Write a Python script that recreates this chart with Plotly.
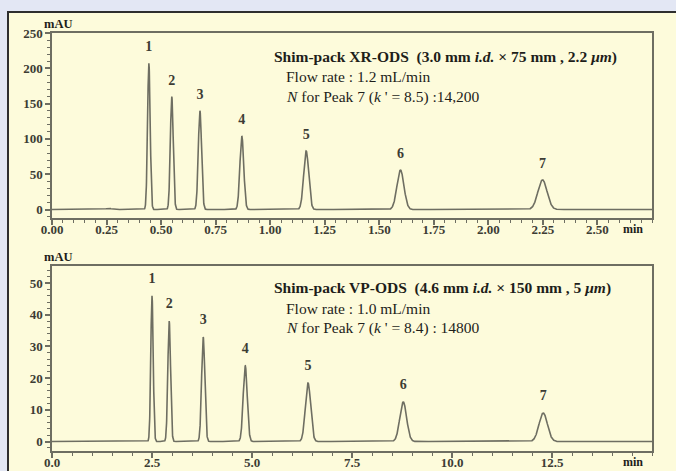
import numpy as np
import plotly.graph_objects as go

W, H = 676, 471

# ---- data ----
peak_labels = ["1", "2", "3", "4", "5", "6", "7"]

# top: Shim-pack XR-ODS
xr_times = [0.444, 0.549, 0.678, 0.870, 1.165, 1.597, 2.248]
xr_heights = [207, 160, 140, 104, 83, 56, 42]
xr_sigmas = [0.0060, 0.0066, 0.0075, 0.0088, 0.0115, 0.0160, 0.0210]
xr_bump = [0.26, 1.5, 0.015]   # small injection disturbance (time, height, sigma)

# bottom: Shim-pack VP-ODS
vp_times = [2.50, 2.93, 3.78, 4.83, 6.40, 8.78, 12.28]
vp_heights = [46, 38, 33, 24, 18.5, 12.5, 9]
vp_sigmas = [0.030, 0.034, 0.040, 0.050, 0.066, 0.085, 0.105]

xr_ticks = [0.00, 0.25, 0.50, 0.75, 1.00, 1.25, 1.50, 1.75, 2.00, 2.25, 2.50]
xr_ticktext = ["0.00", "0.25", "0.50", "0.75", "1.00", "1.25", "1.50", "1.75", "2.00", "2.25", "2.50"]
vp_ticks = [0.0, 2.5, 5.0, 7.5, 10.0, 12.5]
vp_ticktext = ["0.0", "2.5", "5.0", "7.5", "10.0", "12.5"]
xr_yticks = [0, 50, 100, 150, 200, 250]
vp_yticks = [0, 10, 20, 30, 40, 50]


def chromatogram(t, times, heights, sigmas):
    y = np.zeros_like(t)
    for tr, h, s in zip(times, heights, sigmas):
        y += h * np.exp(-0.5 * ((t - tr) / s) ** 2)
    return y


t_top = np.arange(0, 2.7501, 0.0005)
y_top = chromatogram(t_top, xr_times, xr_heights, xr_sigmas)
y_top += chromatogram(t_top, [xr_bump[0]], [xr_bump[1]], [xr_bump[2]])
t_bot = np.arange(0, 15.0001, 0.002)
y_bot = chromatogram(t_bot, vp_times, vp_heights, vp_sigmas)

LINE = "#6e6e62"
TXT = "#3c3c34"
SERIF = "Liberation Serif"

fig = go.Figure()
fig.add_trace(go.Scatter(x=t_top, y=y_top, mode="lines", line=dict(color=LINE, width=1.6),
                         xaxis="x", yaxis="y", hoverinfo="skip", showlegend=False))
fig.add_trace(go.Scatter(x=t_bot, y=y_bot, mode="lines", line=dict(color=LINE, width=1.6),
                         xaxis="x2", yaxis="y2", hoverinfo="skip", showlegend=False))

# peak number labels
fig.add_trace(go.Scatter(x=xr_times, y=[h + 22 for h in xr_heights], mode="text", text=peak_labels,
                         textfont=dict(family=SERIF, size=14, color=TXT, weight="bold"),
                         xaxis="x", yaxis="y", hoverinfo="skip", showlegend=False))
fig.add_trace(go.Scatter(x=vp_times, y=[h + 5.2 for h in vp_heights], mode="text", text=peak_labels,
                         textfont=dict(family=SERIF, size=14, color=TXT, weight="bold"),
                         xaxis="x2", yaxis="y2", hoverinfo="skip", showlegend=False))

xdom = [52 / W, 652 / W]
top_dom = [1 - 218 / H, 1 - 33 / H]
bot_dom = [1 - 451 / H, 1 - 266 / H]

tickfont = dict(family=SERIF, size=13, color=TXT, weight="bold")
common = dict(showline=True, linecolor=LINE, linewidth=1.5, mirror=True, ticks="outside",
              ticklen=5, tickcolor=LINE, tickwidth=1.5, showgrid=False, zeroline=False,
              tickfont=tickfont, fixedrange=True, automargin=False)

fig.update_layout(
    template="none",
    width=W, height=H, margin=dict(l=0, r=0, t=0, b=0, pad=0),
    paper_bgcolor="#e3e7f4", plot_bgcolor="rgba(0,0,0,0)",
    showlegend=False,
    xaxis=dict(domain=xdom, anchor="y", range=[0, 2.75], tickvals=xr_ticks, ticktext=xr_ticktext,
               ticklabelstandoff=-6,
               minor=dict(dtick=0.05, ticks="outside", ticklen=3, tickcolor=LINE, tickwidth=1.2),
               **common),
    yaxis=dict(domain=top_dom, anchor="x", range=[-12, 250], tickvals=xr_yticks,
               minor=dict(dtick=10, ticks="outside", ticklen=3, tickcolor=LINE, tickwidth=1.2),
               **common),
    xaxis2=dict(domain=xdom, anchor="y2", range=[0, 15], tickvals=vp_ticks, ticktext=vp_ticktext,
                ticklabelstandoff=-6,
                minor=dict(dtick=0.5, ticks="outside", ticklen=3, tickcolor=LINE, tickwidth=1.2),
                **common),
    yaxis2=dict(domain=bot_dom, anchor="x2", range=[-3, 55.4], tickvals=vp_yticks,
                minor=dict(dtick=2, ticks="outside", ticklen=3, tickcolor=LINE, tickwidth=1.2),
                **common),
)

# yellow panel
fig.add_shape(type="rect", xref="paper", yref="paper", x0=8 / W, x1=1.02, y0=-0.02, y1=1 - 12 / H,
              fillcolor="#fdfbdb", line=dict(color="#2e2e2e", width=2), layer="below")


def ann(px, py, text, size=15.5, bold=False, anchor="left"):
    fig.add_annotation(xref="paper", yref="paper", x=px / W, y=1 - py / H, text=text, showarrow=False,
                       xanchor=anchor, yanchor="middle", borderpad=0, borderwidth=0,
                       font=dict(family=SERIF, size=size, color="#1e1e1a", weight="bold" if bold else "normal"))


# axis unit labels
ann(44, 24, "mAU", size=12.5, bold=True)
ann(44, 257, "mAU", size=12.5, bold=True)
ann(633, 229, "min", size=12, bold=True, anchor="center")
ann(633, 462, "min", size=12, bold=True, anchor="center")

# descriptions
ann(274, 57, "Shim-pack XR-ODS  (3.0 mm <i>i.d.</i> × 75 mm , 2.2 <i>μm</i>)", bold=True)
ann(286, 77, "Flow rate : 1.2 mL/min")
ann(286, 97, "<i>N</i> for Peak 7 (<i>k</i> ' = 8.5) :14,200")
ann(274, 288, "Shim-pack VP-ODS  (4.6 mm <i>i.d.</i> × 150 mm , 5 <i>μm</i>)", bold=True)
ann(286, 308, "Flow rate : 1.0 mL/min")
ann(286, 328, "<i>N</i> for Peak 7 (<i>k</i> ' = 8.4) : 14800")

fig.write_html("out.html")
